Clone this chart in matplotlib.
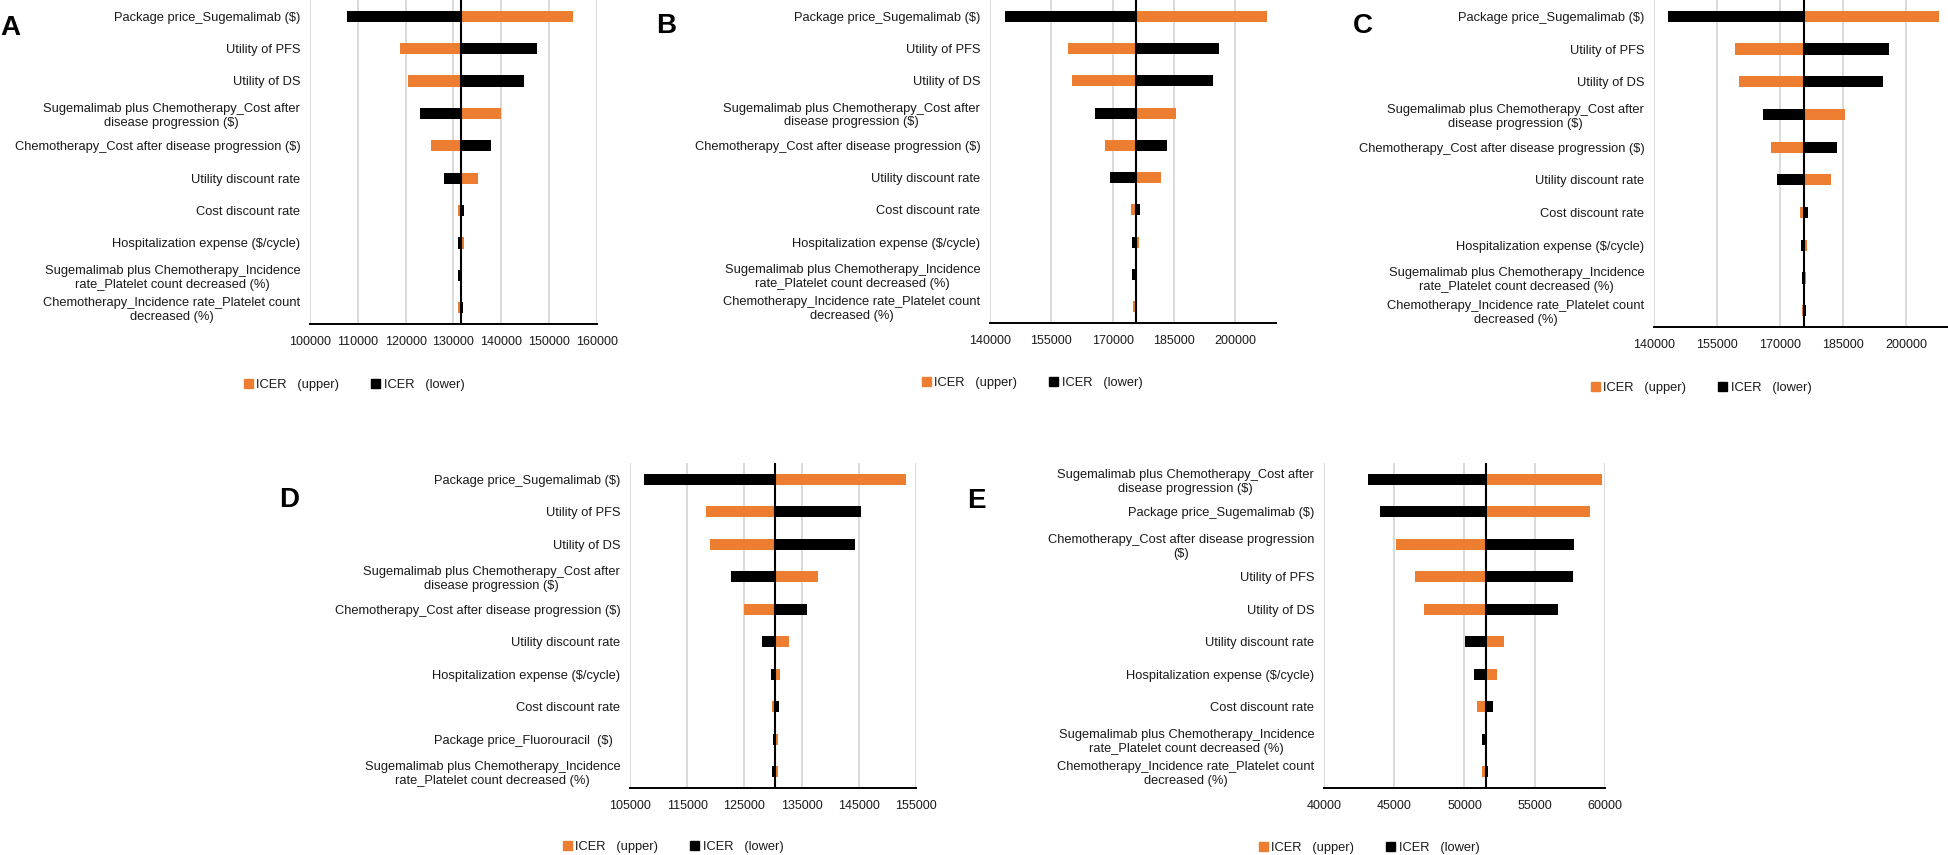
import numpy as np
import matplotlib.pyplot as plt
from matplotlib.patches import Patch

plt.rcParams['font.family'] = ['Liberation Sans', 'DejaVu Sans']

W, H = 1949, 855
ORANGE = '#ED7D31'
TXT = '#1a1a1a'

# 参数名称
names_abc = ["Package price_Sugemalimab ($)",
             "Utility of PFS",
             "Utility of DS",
             "Sugemalimab plus Chemotherapy_Cost after\ndisease progression ($)",
             "Chemotherapy_Cost after disease progression ($)",
             "Utility discount rate",
             "Cost discount rate",
             "Hospitalization expense ($/cycle)",
             "Sugemalimab plus Chemotherapy_Incidence\nrate_Platelet count decreased (%)",
             "Chemotherapy_Incidence rate_Platelet count\ndecreased (%)"]

names_d = ["Package price_Sugemalimab ($)",
           "Utility of PFS",
           "Utility of DS",
           "Sugemalimab plus Chemotherapy_Cost after\ndisease progression ($)",
           "Chemotherapy_Cost after disease progression ($)",
           "Utility discount rate",
           "Hospitalization expense ($/cycle)",
           "Cost discount rate",
           "Package price_Fluorouracil  ($)  ",
           "Sugemalimab plus Chemotherapy_Incidence\nrate_Platelet count decreased (%)"]

names_e = ["Sugemalimab plus Chemotherapy_Cost after\ndisease progression ($)",
           "Package price_Sugemalimab ($)",
           "Chemotherapy_Cost after disease progression\n($)",
           "Utility of PFS",
           "Utility of DS",
           "Utility discount rate",
           "Hospitalization expense ($/cycle)",
           "Cost discount rate",
           "Sugemalimab plus Chemotherapy_Incidence\nrate_Platelet count decreased (%)",
           "Chemotherapy_Incidence rate_Platelet count\ndecreased (%)"]

# ICER 数值
base_a = 131550
upper_a = [155080, 118760, 120490, 139950, 125250, 135020, 130870, 132160, 131800, 131000]
lower_a = [107780, 147470, 144790, 123090, 137870, 128010, 132160, 130870, 130950, 131900]

base_b = 175700
upper_b = [207700, 159050, 160050, 185500, 168050, 181950, 174550, 176500, 176000, 175100]
lower_b = [143550, 196050, 194500, 165650, 183300, 169300, 176700, 174850, 174850, 176000]

base_c = 175800
upper_c = [207900, 159250, 160250, 185500, 167950, 182050, 174850, 176400, 176100, 175150]
lower_c = [143450, 195950, 194550, 165950, 183500, 169400, 176700, 174950, 175150, 176100]

base_d = 130350
upper_d = [153270, 118240, 118930, 137870, 124980, 132850, 131210, 129910, 130800, 130800]
lower_d = [107420, 145310, 144270, 122730, 135880, 128010, 129570, 131040, 130050, 129900]

base_e = 51500
upper_e = [59760, 58900, 45100, 46450, 47100, 52790, 52280, 50860, 51590, 51270]
lower_e = [43100, 44000, 57790, 57690, 56650, 50070, 50650, 52030, 51280, 51650]

ticks_a = [100000, 110000, 120000, 130000, 140000, 150000, 160000]
ticks_bc = [140000, 155000, 170000, 185000, 200000]
ticks_d = [105000, 115000, 125000, 135000, 145000, 155000]
ticks_e = [40000, 45000, 50000, 55000, 60000]

fig = plt.figure(figsize=(W / 100, H / 100), dpi=100)


def panel(box, names, upper, lower, base, xlim, ticks, letter, letter_pos, leg_pos):
    l, t, r, b = box
    ax = fig.add_axes([l / W, 1 - b / H, (r - l) / W, (b - t) / H])
    y = np.arange(len(names))
    up = np.array(upper) - base
    lo = np.array(lower) - base
    ax.barh(y, up, left=base, height=0.34, color=ORANGE, zorder=3)
    ax.barh(y, lo, left=base, height=0.34, color='black', zorder=3)
    ax.axvline(base, color='black', lw=1.5, zorder=4)
    ax.set_xlim(*xlim)
    ax.set_ylim(len(names) - 0.5, -0.5)
    ax.set_xticks(ticks)
    ax.set_xticklabels([str(v) for v in ticks])
    ax.set_yticks(y)
    ax.set_yticklabels([n.replace('$', r'\$') for n in names])
    for lab in ax.get_yticklabels():
        lab.set_multialignment('center')
    ax.tick_params(length=0, colors=TXT)
    ax.tick_params(axis='y', pad=7, labelsize=9.3)
    ax.tick_params(axis='x', pad=8.5, labelsize=9)
    ax.grid(axis='x', color='#d4d4d4', lw=1.2, zorder=0)
    for s in ['top', 'left', 'right']:
        ax.spines[s].set_visible(False)
    ax.spines['bottom'].set_linewidth(1.4)
    ax.spines['bottom'].set_zorder(5)
    fig.text(letter_pos[0] / W, 1 - letter_pos[1] / H, letter, fontsize=20,
             fontweight='bold', ha='left', va='baseline', color='black')
    handles = [Patch(color=ORANGE), Patch(color='black')]
    ax.legend(handles, ['ICER   (upper)', 'ICER   (lower)'], loc='center',
              bbox_to_anchor=(leg_pos[0] / W, 1 - leg_pos[1] / H),
              bbox_transform=fig.transFigure, ncol=2, frameon=False,
              fontsize=9.3, handlelength=0.7, handleheight=0.7,
              handletextpad=0.25, columnspacing=2.5, labelcolor=TXT)
    return ax


panel((310, 0, 597, 324), names_abc, upper_a, lower_a, base_a, (100000, 160000),
      ticks_a, 'A', (0, 35), (354, 385))
panel((990, 0, 1276, 323), names_abc, upper_b, lower_b, base_b, (140000, 210000),
      ticks_bc, 'B', (656, 33), (1032, 383))
panel((1654, 0, 1948, 327), names_abc, upper_c, lower_c, base_c, (140000, 210000),
      ticks_bc, 'C', (1353, 33), (1701, 388))
panel((630, 463, 916, 788), names_d, upper_d, lower_d, base_d, (105000, 155000),
      ticks_d, 'D', (279, 507), (673, 847))
panel((1324, 463, 1605, 788), names_e, upper_e, lower_e, base_e, (40000, 60000),
      ticks_e, 'E', (967, 508), (1369, 848))

fig.savefig('out.png', dpi=100)
